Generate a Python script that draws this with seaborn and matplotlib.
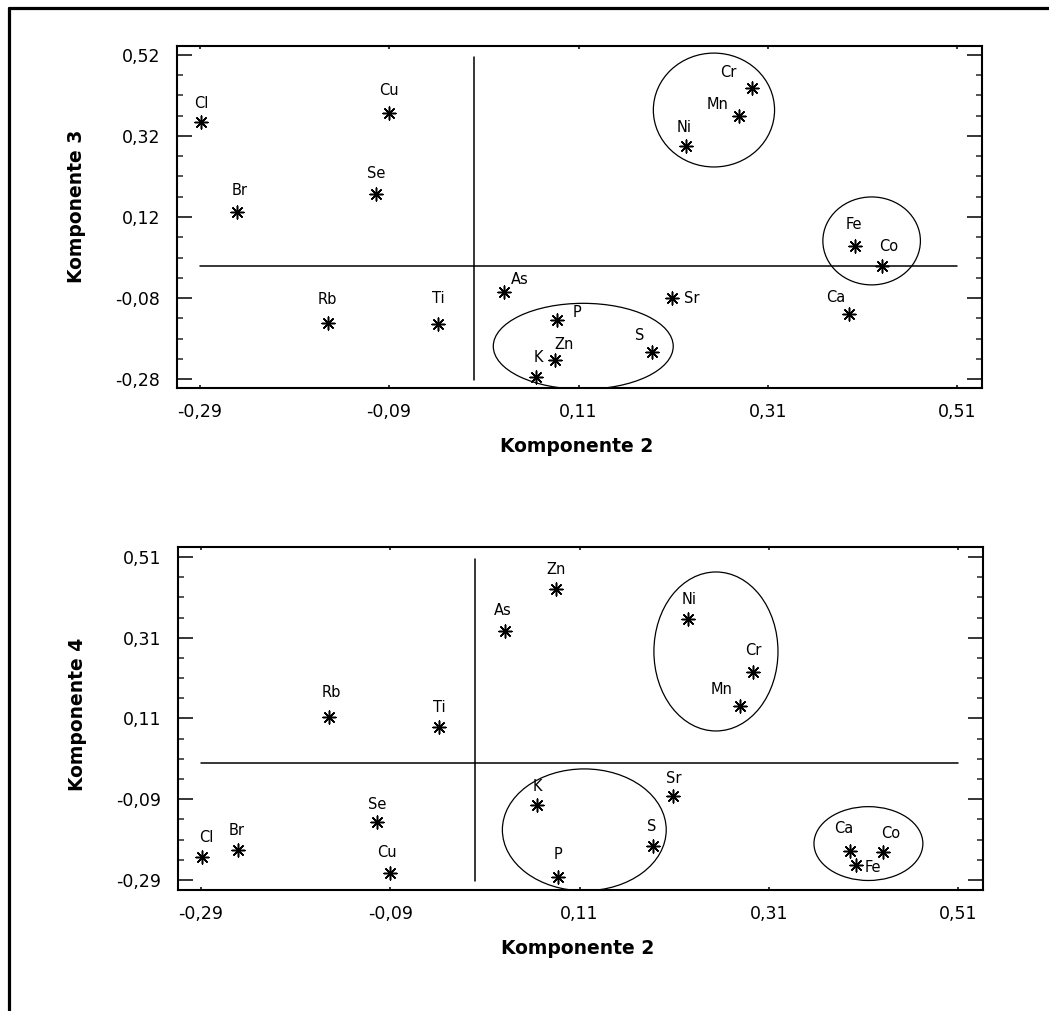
import numpy as np
import pandas as pd
import matplotlib
matplotlib.use("Agg")
import matplotlib.pyplot as plt
from matplotlib.patches import Ellipse
from matplotlib.lines import Line2D
import seaborn as sns

# ---------------- data ----------------
elements = ["Cl", "Br", "Cu", "Se", "Rb", "Ti", "As", "P", "Zn", "K",
            "S", "Sr", "Ni", "Mn", "Cr", "Fe", "Co", "Ca"]
komp2 = [-0.289, -0.251, -0.090, -0.104, -0.155, -0.038, 0.031, 0.087, 0.085, 0.065,
         0.188, 0.209, 0.224, 0.279, 0.293, 0.402, 0.430, 0.396]
komp3 = [0.355, 0.132, 0.377, 0.177, -0.142, -0.144, -0.065, -0.134, -0.233, -0.275,
         -0.213, -0.080, 0.295, 0.369, 0.439, 0.048, 0.000, -0.119]
komp4 = [-0.233, -0.215, -0.272, -0.146, 0.114, 0.089, 0.327, -0.282, 0.431, -0.104,
         -0.205, -0.082, 0.357, 0.141, 0.225, -0.252, -0.220, -0.218]

xticks = [-0.29, -0.09, 0.11, 0.31, 0.51]
yticks_top = [-0.28, -0.08, 0.12, 0.32, 0.52]
yticks_bot = [-0.29, -0.09, 0.11, 0.31, 0.51]

# cluster ellipses (center x, center y, width, height) in data units
ellipses_top = [(0.253, 0.384, 0.128, 0.281),
                (0.4195, 0.061, 0.103, 0.217),
                (0.115, -0.199, 0.190, 0.212)]
ellipses_bot = [(0.254, 0.276, 0.131, 0.394),
                (0.115, -0.166, 0.173, 0.302),
                (0.415, -0.200, 0.115, 0.183)]

# label offsets (pixels, x right / y down)
off_top = {"Cl": (1, -18), "Br": (3, -22), "Cu": (0, -22), "Se": (0, -20), "Rb": (0, -24),
           "Ti": (0, -25), "As": (16, -12), "P": (20, -7), "Zn": (9, -16), "K": (2, -20),
           "S": (-13, -16), "Sr": (19, 0), "Ni": (-2, -19), "Mn": (-21, -12), "Cr": (-24, -15),
           "Fe": (-1, -22), "Co": (7, -19), "Ca": (-14, -16)}
off_bot = {"Cl": (5, -19), "Br": (-1, -19), "Cu": (-3, -20), "Se": (0, -17), "Rb": (3, -24),
           "Ti": (0, -19), "As": (-2, -20), "P": (0, -22), "Zn": (0, -19), "K": (0, -18),
           "S": (-2, -19), "Sr": (0, -17), "Ni": (2, -19), "Mn": (-18, -16), "Cr": (0, -22),
           "Fe": (17, 3), "Co": (8, -18), "Ca": (-7, -22)}

df = pd.DataFrame({"Element": elements, "Komponente 2": komp2,
                   "Komponente 3": komp3, "Komponente 4": komp4})

sns.set_style("white")
plt.rcParams["font.family"] = ["DejaVu Sans"]
plt.rcParams["text.color"] = "black"
plt.rcParams["axes.labelcolor"] = "black"

fig = plt.figure(figsize=(10.49, 10.11), dpi=100)
ax1 = fig.add_axes([0.1687, 0.6162, 0.7674, 0.3383])
ax2 = fig.add_axes([0.1697, 0.1197, 0.7674, 0.3393])

asterisk = (8, 2, 0)


def fmt(v):
    return f"{v:.2f}".replace(".", ",")


def draw(ax, ycol, yticks, ylim, ells, offs, vline, ylab_y):
    sns.scatterplot(data=df, x="Komponente 2", y=ycol, ax=ax, marker=asterisk,
                    s=85, color="black", linewidth=1.1, legend=False, zorder=3)
    for _, r in df.iterrows():
        dx, dy = offs[r["Element"]]
        ax.annotate(r["Element"], (r["Komponente 2"], r[ycol]), xytext=(dx, -dy),
                    textcoords="offset pixels", ha="center", va="center",
                    fontsize=10.5, color="black")
    for (cx, cy, w, h) in ells:
        e = Ellipse((cx, cy), w, h, fill=False, edgecolor="black", linewidth=0.9,
                    clip_on=True)
        ax.add_patch(e)
    ax.plot([-0.29, 0.51], [0, 0], color="black", linewidth=1.1, zorder=1)
    ax.plot([0, 0], vline, color="black", linewidth=1.1, zorder=1)

    ax.set_xlim(-0.314, 0.536)
    ax.set_ylim(*ylim)
    ax.set_xticks(xticks)
    ax.set_xticklabels([fmt(v) for v in xticks])
    ax.set_yticks(yticks)
    ax.set_yticklabels([fmt(v) for v in yticks])
    ax.set_yticks(np.arange(yticks[0], yticks[-1] + 0.001, 0.05), minor=True)
    ax.tick_params(axis="y", which="major", direction="in", left=True, right=True,
                   length=10.5, width=1.1, pad=12, labelsize=12.5, colors="black")
    ax.tick_params(axis="y", which="minor", direction="in", left=True, right=True,
                   length=4.5, width=1.1)
    ax.tick_params(axis="x", which="major", direction="in", bottom=True, top=True,
                   length=2.5, width=1.1, pad=11, labelsize=12.5, colors="black")
    for sp in ax.spines.values():
        sp.set_visible(True)
        sp.set_linewidth(1.5)
        sp.set_color("black")
    ax.set_xlabel("Komponente 2", fontsize=13.5, fontweight="bold", color="black")
    ax.set_ylabel(ycol, fontsize=13.5, fontweight="bold", color="black")
    ax.xaxis.set_label_coords(0.496, -0.143)
    ax.yaxis.set_label_coords(-0.113, ylab_y)


draw(ax1, "Komponente 3", yticks_top, (-0.302, 0.542), ellipses_top, off_top,
     [-0.282, 0.515], 0.532)
draw(ax2, "Komponente 4", yticks_bot, (-0.315, 0.535), ellipses_bot, off_bot,
     [-0.292, 0.505], 0.513)

# figure frame (left and top edges)
fig.add_artist(Line2D([9 / 1049, 9 / 1049], [0, 1 - 8 / 1011], transform=fig.transFigure,
                      color="black", linewidth=2.3))
fig.add_artist(Line2D([9 / 1049, 1], [1 - 8 / 1011, 1 - 8 / 1011], transform=fig.transFigure,
                      color="black", linewidth=2.3))

fig.savefig("out.png", dpi=100, facecolor="white")
